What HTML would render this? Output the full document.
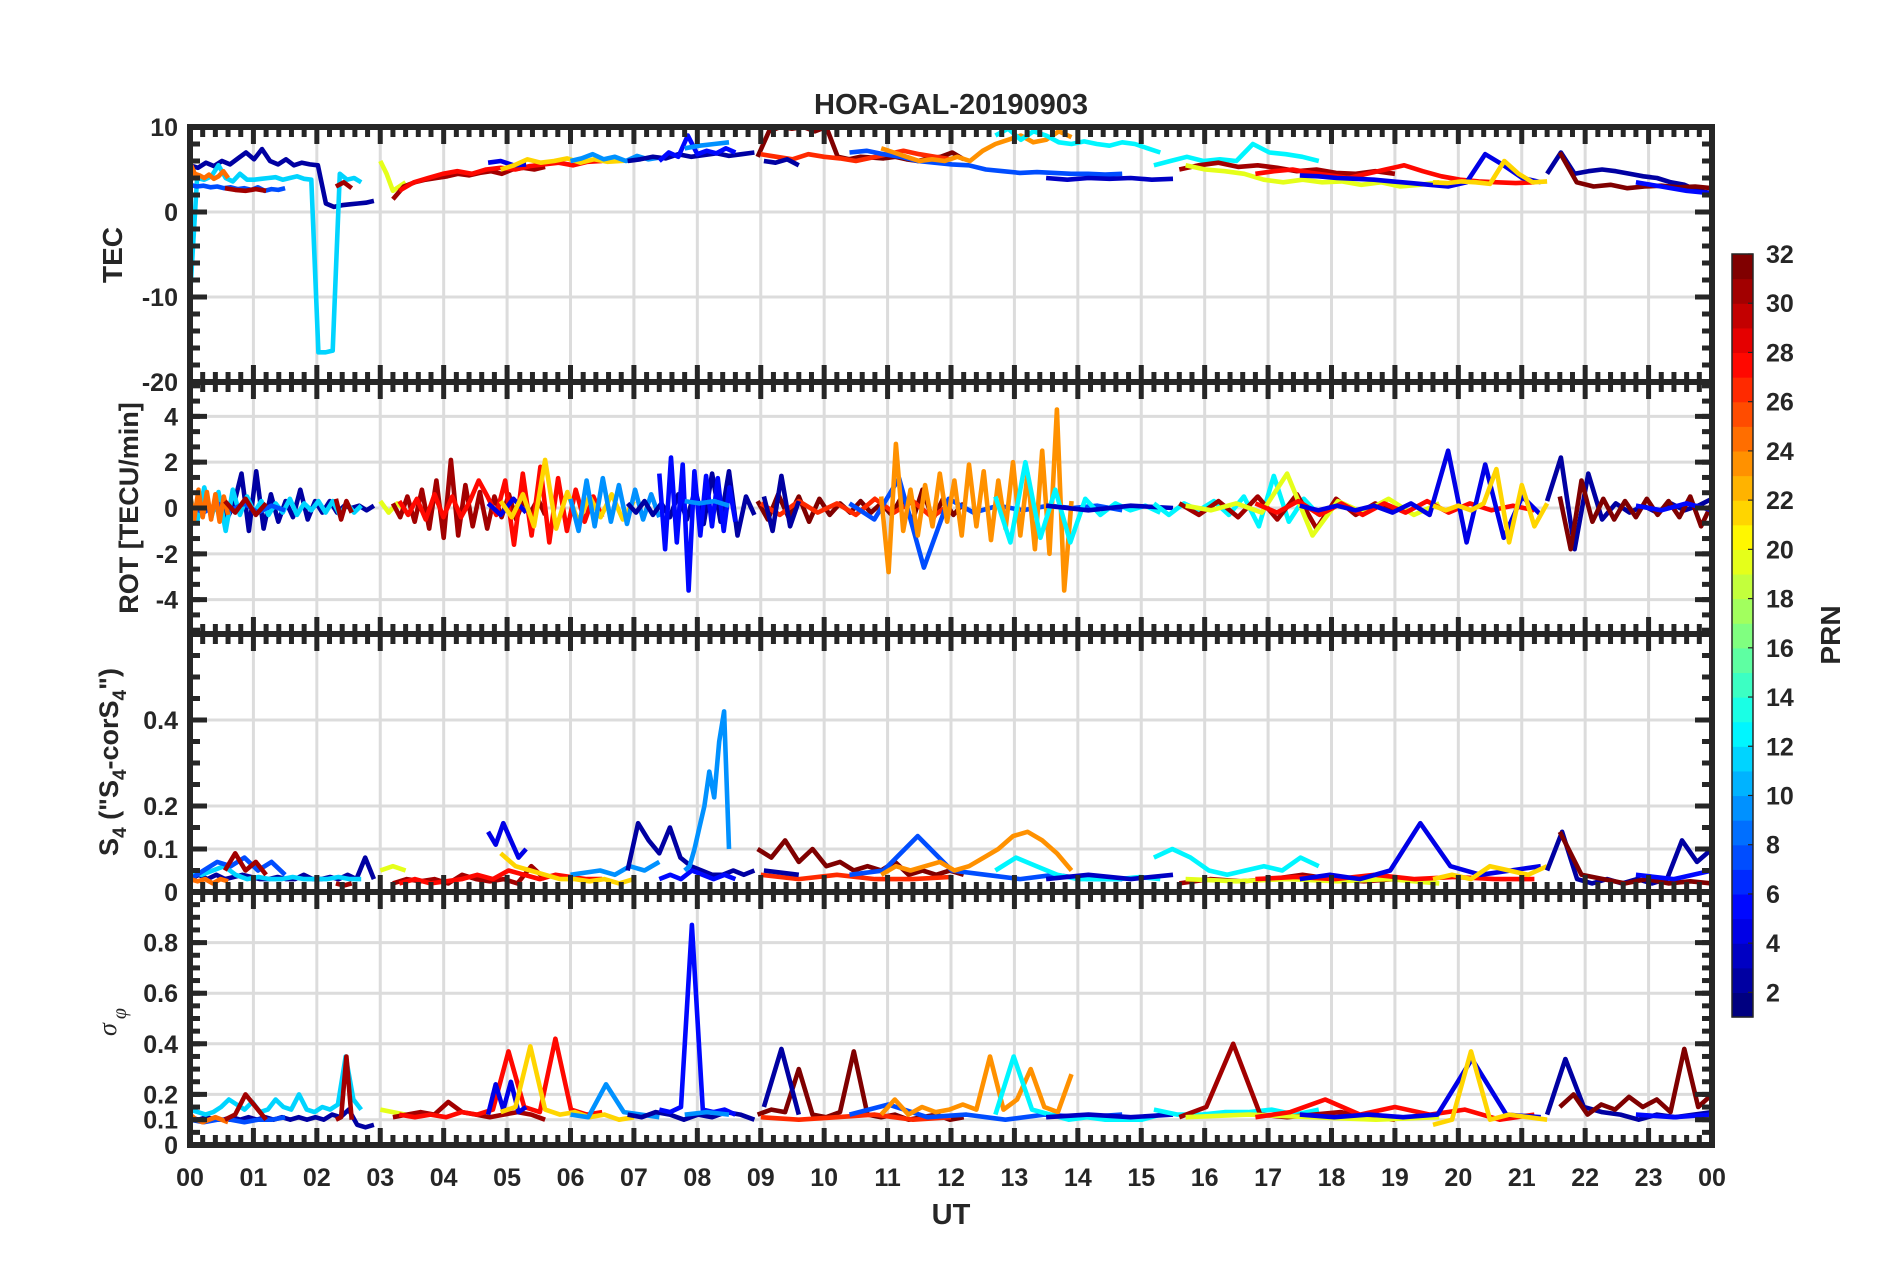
<!DOCTYPE html>
<html><head><meta charset="utf-8"><style>
html,body{margin:0;padding:0;background:#fff;}
svg text{font-family:"Liberation Sans",Arial,sans-serif;font-weight:bold;fill:#262626;}
</style></head><body>
<svg id="chart" width="1902" height="1272" viewBox="0 0 1902 1272" xmlns="http://www.w3.org/2000/svg">
<rect x="0" y="0" width="1902" height="1272" fill="#fff"/>
<text x="951" y="114" font-size="29" text-anchor="middle">HOR-GAL-20190903</text>
<text x="951" y="1224" font-size="29" text-anchor="middle">UT</text>
<text transform="translate(122,255) rotate(-90)" font-size="28" text-anchor="middle">TEC</text>
<text transform="translate(138,508) rotate(-90)" font-size="27" text-anchor="middle">ROT [TECU/min]</text>
<text transform="translate(118,762) rotate(-90)" font-size="27" text-anchor="middle">S<tspan font-size="19" dy="8">4</tspan><tspan dy="-8"> ("S</tspan><tspan font-size="19" dy="8">4</tspan><tspan dy="-8">-corS</tspan><tspan font-size="19" dy="8">4</tspan><tspan dy="-8">")</tspan></text>
<text transform="translate(116,1022) rotate(-90)" font-size="26" text-anchor="middle" font-weight="normal" font-style="italic" style="font-family:'Liberation Serif',serif;font-weight:normal">σ<tspan font-size="20" dy="10" dx="4">φ</tspan></text>
<g id="grid"></g>
<defs id="defs"></defs>
<g id="series"></g>
<g id="axes"></g>
<g id="cbar"></g>
<text transform="translate(1840,635) rotate(-90)" font-size="28" text-anchor="middle">PRN</text>
</svg>
<script>
const prns   = [2,11,7,24,30,30,19,30,27,4,21,9,2,5,9,31,26,2,7,23,12,3,12,30,19,27,4,21,2,31,5];
const tStart = [0,0,0,0,0.55,2.3,3.0,3.2,3.3,4.7,4.9,6.0,6.9,7.4,7.8,8.95,9.0,9.05,10.4,10.9,12.7,13.5,15.2,15.6,15.7,16.8,17.5,19.6,21.4,21.6,22.8];
const tEnd   = [2.9,2.7,1.5,0.6,1.2,2.55,3.4,5.6,6.5,5.3,7.0,7.4,8.9,8.6,8.5,12.2,12.0,9.6,14.7,13.9,15.3,15.5,17.8,19.0,19.7,21.2,21.3,21.4,24.0,24.0,24.0];
const tecVals = [
[5.5,5.2,5.8,5.4,6.0,5.6,6.3,7.0,6.2,7.4,6.0,5.6,6.2,5.5,5.8,5.6,5.5,1.0,0.6,0.8,0.9,1.0,1.1,1.3],
[-10,4,3.8,4.2,5.5,4.0,3.6,4.5,3.8,3.8,3.9,4.0,4.1,3.8,4.0,4.2,3.9,3.8,-16.5,-16.5,-16.3,4.5,3.8,4.0,3.5],
[3.2,3.0,3.1,2.9,3.0,2.8,2.9,2.7,2.8,2.6,2.9,2.5,2.7,2.6,2.8],
[5.8,4.5,4.3,4.0,4.4,3.9,4.2,4.8,4.0],
[2.8,2.6,2.5,2.7,2.5],
[3.0,3.5,2.8],
[6.0,4.5,2.5,3.0,3.5],
[1.5,3.0,3.5,3.8,4.0,4.2,4.5,4.3,4.6,4.8,4.5,5.0,5.2,5.0,5.3],
[2.5,3.5,4.0,4.5,4.8,4.5,5.0,5.2,5.0,5.4,5.6,5.8,5.5,5.9,6.0],
[5.8,6.0,5.5,5.6],
[5.0,5.5,6.2,5.8,6.0,6.3,5.8,6.2,5.9,6.0,6.1],
[6.0,6.3,6.8,6.2,6.5,6.0,6.6,6.2,6.4],
[6.0,6.2,6.5,6.3,6.8,6.5,6.7,6.9,6.6,6.8,7.0],
[6.0,7.0,6.5,9.0,6.8,7.2,6.9,7.5,7.0],
[7.5,7.8,8.0,8.2],
[6.5,9.5,10,9.8,10,9.5,10,6.5,6.2,6.5,6.4,6.3,6.5,6.2,6.0,6.3,6.5,7.0,6.2],
[6.8,6.5,6.2,6.8,6.5,6.3,6.0,6.4,6.8,7.2,6.8,6.5,6.2],
[6.0,5.8,6.2,5.5],
[7.0,7.2,6.8,6.5,6.0,5.8,5.6,5.5,5.0,4.8,4.6,4.7,4.6,4.5,4.5,4.4,4.5],
[7.5,7.0,6.5,6.0,6.2,6.0,6.5,6.0,7.2,8.0,8.5,9.0,8.2,8.5,9.5,8.8],
[9.0,9.8,8.5,9.5,9.0,8.2,8.0,8.3,8.0,7.8,8.2,8.0,7.5,7.0],
[4.0,3.8,4.0,3.9,4.0,3.8,3.9],
[5.5,6.0,6.5,6.0,6.2,6.0,8.0,7.0,6.8,6.5,6.0],
[5.0,5.5,5.8,5.3,5.5,5.2,4.8,5.0,4.6,4.5,4.8,4.5],
[5.5,5.0,4.8,4.5,3.8,3.5,3.8,3.5,3.6,3.2,3.5,3.0,3.2,3.5],
[4.5,4.8,5.0,4.6,4.3,4.0,4.5,5.0,5.5,4.8,4.2,3.8,3.6,3.5,3.4,3.5],
[4.3,4.2,4.0,3.9,3.8,3.6,3.4,3.2,3.0,3.5,6.8,5.5,4.0,3.5],
[3.5,3.4,3.6,3.5,3.3,6.0,4.5,3.5,3.6],
[4.5,7.0,4.5,4.8,5.0,4.8,4.5,4.2,4.0,3.5,3.2,2.5,2.2],
[7.0,3.5,3.0,3.2,2.8,3.0,3.1,2.9,3.0,2.8],
[3.5,3.0,2.5,2.2]
];
const rotVals = [
[0.2,-0.3,0.4,-0.2,0.3,-0.5,0.2,1.5,-1.0,1.6,-0.9,0.6,-0.6,0.3,-0.4,0.8,-0.5,0.3,-0.2,0.3,-0.2,0.1,0,0.1,-0.1,0.1],
[0.5,-0.6,0.9,-0.4,0.7,-1.0,0.8,-0.3,0.5,-0.2,0.3,-0.3,0.2,-0.2,0.4,-0.3,0.2,-0.1,0.3,-0.2,0.3,-0.3,0.2,-0.2,0.1],
[0.1,-0.2,0.2,-0.1,0.2,-0.2,0.1,-0.1],
[0.6,-0.5,0.8,-0.4,0.7,-0.5,0.6,-0.6,0.5,-0.3],
[0.3,-0.2,0.4,-0.3,0.2],
[0.4,-0.5,0.3,-0.2],
[0.3,-0.2,0.2,-0.1],
[0.2,-0.4,0.5,-0.6,0.8,-0.9,1.2,-1.3,2.1,-1.2,1.0,-0.8,0.7,-0.9,0.5,-0.4,0.6,-0.5,0.3,-0.2,0.4,-0.3],
[0.3,-0.3,0.4,-0.5,0.6,-0.4,0.5,-0.4,0.3,1.2,0.5,-0.3,1.2,-1.6,1.5,-1.2,1.8,-1.5,1.3,-1.0,0.8,-0.6,0.5,-0.4],
[0.2,-0.3,0.4,-0.2],
[0.3,-0.4,0.6,-0.8,2.1,-0.9,0.7,-0.6,0.5,-0.4,0.6,-0.5,0.3],
[0.4,-1.0,1.2,-0.8,1.3,-0.6,1.0,-0.7,0.8,-0.5,0.6,-0.4],
[0.2,-0.2,0.3,-0.3,0.2,-0.4,0.6,-0.5,0.8,-0.7,1.5,-0.6,1.6,-1.2,0.5,-0.3],
[1.5,-1.8,2.2,-1.5,1.9,-3.6,1.6,-1.2,1.4,-0.8,1.3,-1.0,0.9,-0.6],
[0.3,0.2,0.3,0.1],
[0.3,-0.5,0.6,-0.4,0.5,-0.6,0.4,-0.3,0.2,-0.2,0.3,-0.2,0.2,-0.3,0.5,-0.6,0.8,-0.5,0.4,-0.3,0.2],
[0.2,-0.3,0.3,-0.2,0.2,-0.3,0.4,-0.2,0.3,-0.4,0.2],
[0.5,-1.0,1.4,-0.8,0.3],
[0.2,-0.5,1.3,-2.6,0.4,-0.2,0.1,-0.1,0.1,0,0.1,-0.1],
[0.5,-2.8,2.8,-1.0,0.8,-1.2,1.0,-0.8,1.5,-0.6,1.2,-1.2,1.9,-0.8,1.6,-1.4,1.2,-0.9,2.0,-1.2,1.5,-1.8,2.5,-2.0,4.3,-3.6,0.3],
[0.5,-1.5,2.0,-1.3,0.8,-1.5,0.4,-0.3,0.2,-0.1,0.1,-0.2],
[0.1,-0.1,0.1,0],
[0.2,-0.3,0.2,-0.1,0.3,-0.3,0.5,-0.8,1.4,-0.6,0.4,-0.3],
[0.2,-0.3,0.3,-0.4,0.5,-0.5,0.6,-0.9,0.4,-0.3,0.2,-0.2],
[0.1,-0.1,0.2,-0.2,1.5,-1.2,0.3,-0.2,0.4,-0.3,0.2],
[0.2,-0.2,0.3,-0.3,0.2,-0.3,0.2,-0.2,0.3,-0.2,0.2,-0.1,0.1,-0.1],
[0.1,-0.1,0.1,-0.1,0.1,-0.2,0.2,-0.3,2.5,-1.5,1.9,-1.3,0.5,-0.3],
[0.1,-0.1,0.1,-0.1,0.2,1.7,-1.5,1.0,-0.8,0.2],
[0.3,2.2,-1.8,1.5,-0.5,0.2,-0.2,0.1,-0.2,0.2,-0.1,0.1,0.4],
[0.5,-1.8,1.2,-0.6,0.4,-0.5,0.3,-0.4,0.4,-0.3,0.3,-0.4,0.5,-0.8,0.2],
[0.1,-0.1,0.2,-0.1]
];
const s4Vals = [
[0.03,0.04,0.03,0.04,0.03,0.035,0.04,0.035,0.03,0.03,0.035,0.03,0.03,0.04,0.03,0.03,0.035,0.03,0.04,0.03,0.08,0.03],
[0.05,0.04,0.05,0.06,0.04,0.03,0.035,0.03,0.03,0.035,0.03,0.03,0.03,0.035,0.03,0.03],
[0.03,0.05,0.07,0.06,0.08,0.05,0.07,0.04],
[0.03,0.025,0.03,0.02,0.03,0.025],
[0.05,0.09,0.05,0.07,0.04],
[0.02,0.015,0.02],
[0.05,0.06,0.05],
[0.02,0.03,0.025,0.03,0.02,0.04,0.03,0.025,0.03,0.02,0.06,0.03],
[0.02,0.03,0.02,0.025,0.03,0.04,0.03,0.05,0.04,0.03,0.04,0.035,0.03,0.03],
[0.14,0.11,0.16,0.12,0.08,0.1],
[0.09,0.06,0.05,0.04,0.03,0.03,0.025,0.03,0.02,0.03],
[0.04,0.045,0.05,0.04,0.06,0.05,0.07],
[0.05,0.16,0.12,0.09,0.15,0.08,0.06,0.05,0.04,0.04,0.05,0.04,0.05],
[0.03,0.04,0.03,0.05,0.04,0.03,0.04,0.03],
[0.05,0.06,0.1,0.15,0.2,0.28,0.22,0.35,0.42,0.1],
[0.1,0.08,0.12,0.07,0.1,0.06,0.07,0.05,0.06,0.05,0.07,0.04,0.05,0.04,0.05,0.04],
[0.04,0.03,0.04,0.03,0.03,0.035],
[0.05,0.04],
[0.04,0.05,0.13,0.05,0.04,0.03,0.04,0.03,0.03],
[0.04,0.06,0.05,0.06,0.07,0.05,0.06,0.08,0.1,0.13,0.14,0.12,0.09,0.05],
[0.05,0.08,0.06,0.04,0.03,0.03,0.03,0.035,0.03],
[0.03,0.04,0.03,0.04],
[0.08,0.1,0.08,0.05,0.04,0.05,0.06,0.05,0.08,0.06],
[0.02,0.03,0.025,0.03,0.04,0.03,0.025,0.03],
[0.03,0.025,0.03,0.025,0.03,0.02],
[0.03,0.035,0.03,0.04,0.03,0.035,0.03,0.03],
[0.03,0.04,0.03,0.05,0.16,0.06,0.04,0.05,0.06],
[0.03,0.04,0.03,0.06,0.05,0.04,0.06],
[0.05,0.14,0.03,0.02,0.03,0.02,0.03,0.02,0.03,0.12,0.07,0.1],
[0.14,0.04,0.03,0.02,0.03,0.02,0.025,0.02],
[0.04,0.03,0.05]
];
const sigVals = [
[0.11,0.10,0.11,0.10,0.10,0.11,0.10,0.11,0.10,0.11,0.10,0.11,0.10,0.11,0.10,0.11,0.10,0.12,0.11,0.14,0.08,0.07,0.08],
[0.14,0.13,0.12,0.13,0.15,0.18,0.16,0.14,0.17,0.13,0.14,0.18,0.15,0.14,0.20,0.14,0.13,0.15,0.14,0.16,0.35,0.18,0.14],
[0.1,0.09,0.1,0.1,0.09,0.1,0.1,0.11],
[0.12,0.1,0.09,0.1,0.11,0.1,0.09],
[0.1,0.12,0.2,0.15,0.1],
[0.1,0.11,0.35,0.1],
[0.14,0.13,0.12],
[0.11,0.12,0.13,0.12,0.17,0.13,0.12,0.11,0.12,0.13,0.12,0.1],
[0.12,0.11,0.12,0.11,0.13,0.12,0.14,0.37,0.15,0.13,0.42,0.14,0.12,0.13],
[0.12,0.24,0.14,0.25,0.13,0.15],
[0.13,0.15,0.39,0.14,0.12,0.13,0.11,0.12,0.1,0.11],
[0.12,0.11,0.24,0.13,0.12,0.11],
[0.12,0.11,0.13,0.12,0.1,0.12,0.11,0.13,0.12,0.1],
[0.14,0.13,0.15,0.87,0.14,0.13,0.14,0.12],
[0.12,0.13,0.12],
[0.12,0.14,0.13,0.3,0.12,0.11,0.13,0.37,0.12,0.11,0.12,0.1,0.11,0.12,0.1,0.11],
[0.11,0.1,0.11,0.12,0.1,0.11],
[0.15,0.38,0.12],
[0.12,0.16,0.11,0.12,0.1,0.12,0.11,0.12],
[0.12,0.18,0.12,0.15,0.13,0.14,0.16,0.14,0.35,0.14,0.18,0.3,0.15,0.13,0.28],
[0.12,0.35,0.14,0.12,0.1,0.11,0.1,0.1,0.1,0.12],
[0.11,0.12,0.11,0.12],
[0.14,0.12,0.12,0.13,0.13,0.14,0.12,0.14],
[0.11,0.15,0.4,0.12,0.11,0.12,0.13,0.11,0.1],
[0.11,0.12,0.11,0.1,0.11],
[0.11,0.13,0.18,0.12,0.15,0.12,0.14,0.1,0.12],
[0.12,0.11,0.12,0.11,0.12,0.34,0.12,0.11],
[0.08,0.1,0.37,0.1,0.12,0.11,0.1],
[0.12,0.34,0.15,0.13,0.12,0.1,0.12,0.11,0.12,0.13],
[0.15,0.2,0.12,0.16,0.14,0.19,0.15,0.18,0.13,0.38,0.15,0.2],
[0.12,0.11,0.12]
];
const hourLabels = ["00","01","02","03","04","05","06","07","08","09","10","11","12","13","14","15","16","17","18","19","20","21","22","23","00"];
const tecTicks = [-20,-10,0,10];
const rotTicks = [-4,-2,0,2,4];
const s4Ticks = [0,0.1,0.2,0.4];
const sigTicks = [0,0.1,0.2,0.4,0.6,0.8];
const cbarTicks = [2,4,6,8,10,12,14,16,18,20,22,24,26,28,30,32];

const NS = "http://www.w3.org/2000/svg";
const X0 = 190, X1 = 1712;
function xs(t){ return X0 + (X1 - X0) * t / 24; }
const panels = [
 {key:"tec", top:127, bot:382, min:-20, max:10, ticks:tecTicks, minor:2, vals:tecVals},
 {key:"rot", top:382, bot:634, min:-5.5, max:5.5, ticks:rotTicks, minor:2/3, vals:rotVals},
 {key:"s4", top:634, bot:892, min:0, max:0.6, ticks:s4Ticks, minor:0.05, vals:s4Vals},
 {key:"sigma", top:892, bot:1145, min:0, max:1, ticks:sigTicks, minor:0.05, vals:sigVals}
];
function ys(p, v){ return p.bot - (p.bot - p.top) * (v - p.min) / (p.max - p.min); }
function jet(i, n){
  const f = i / (n - 1);
  const c = v => Math.round(255 * Math.max(0, Math.min(1, v)));
  return `rgb(${c(1.5-Math.abs(4*f-3))},${c(1.5-Math.abs(4*f-2))},${c(1.5-Math.abs(4*f-1))})`;
}
function prnColor(p){ const i = Math.max(0, Math.min(30, Math.floor(p - 1))); return jet(i, 31); }
function mk(tag, attrs, parent){ const e = document.createElementNS(NS, tag); for (const k in attrs) e.setAttribute(k, attrs[k]); parent.appendChild(e); return e; }

const grid = document.getElementById("grid");
const defs = document.getElementById("defs");
const seriesG = document.getElementById("series");
const axes = document.getElementById("axes");
const cbar = document.getElementById("cbar");

panels.forEach(p => {
  const cp = mk("clipPath", {id:"clip-"+p.key}, defs);
  mk("rect", {x:X0, y:p.top, width:X1-X0, height:p.bot-p.top}, cp);
  for (let h = 1; h < 24; h++){
    const l = mk("line", {x1:xs(h), x2:xs(h), y1:p.top, y2:p.bot, stroke:"#dcdcdc", "stroke-width":3}, grid);
    
    
  }
  p.ticks.forEach(v => {
    if (v === p.min || v === p.max) return;
    const l = mk("line", {x1:X0, x2:X1, y1:ys(p,v), y2:ys(p,v), stroke:"#dcdcdc", "stroke-width":3}, grid);
    
    
  });
  const g = mk("g", {"clip-path":"url(#clip-"+p.key+")"}, seriesG);
  
  
  p.vals.forEach((arr, si) => {
    if (!arr.length) return;
    const n = arr.length, t0 = tStart[si], t1 = tEnd[si];
    const pts = arr.map((v, i) => {
      const t = n > 1 ? t0 + (t1 - t0) * i / (n - 1) : t0;
      return xs(t).toFixed(1) + "," + ys(p, v).toFixed(1);
    }).join(" ");
    const pl = mk("polyline", {points:pts, fill:"none", stroke:prnColor(prns[si]), "stroke-width":4.6, "stroke-linejoin":"round"}, g);
    
    
  });
  const box = mk("rect", {x:X0, y:p.top, width:X1-X0, height:p.bot-p.top, fill:"none", stroke:"#262626", "stroke-width":6}, axes);
  
  
  for (let k = 0; k <= 24 * 5; k++){
    const x = xs(k / 5), major = (k % 5 === 0), len = major ? 17 : 10;
    mk("line", {x1:x, x2:x, y1:p.top, y2:p.top + len, stroke:"#262626", "stroke-width":5}, axes);
    mk("line", {x1:x, x2:x, y1:p.bot, y2:p.bot - len, stroke:"#262626", "stroke-width":5}, axes);
  }
  const startMinor = Math.ceil((p.min) / p.minor - 1e-9);
  for (let k = startMinor; k * p.minor <= p.max + 1e-9; k++){
    const y = ys(p, k * p.minor);
    if (y < p.top - 0.5 || y > p.bot + 0.5) continue;
    mk("line", {x1:X0, x2:X0 + 10, y1:y, y2:y, stroke:"#262626", "stroke-width":5}, axes);
    mk("line", {x1:X1, x2:X1 - 10, y1:y, y2:y, stroke:"#262626", "stroke-width":5}, axes);
  }
  p.ticks.forEach(v => {
    const y = ys(p, v);
    mk("line", {x1:X0, x2:X0 + 17, y1:y, y2:y, stroke:"#262626", "stroke-width":5}, axes);
    mk("line", {x1:X1, x2:X1 - 17, y1:y, y2:y, stroke:"#262626", "stroke-width":5}, axes);
    const t = mk("text", {x:178, y:y + 9, "font-size":25, "text-anchor":"end"}, axes);
    
    
    t.textContent = String(v);
  });
});
hourLabels.forEach((lab, h) => {
  const t = mk("text", {x:xs(h), y:1186, "font-size":25, "text-anchor":"middle"}, axes);
  
  
  t.textContent = lab;
});
const CB_L = 1732, CB_R = 1753, CB_T = 254, CB_B = 1017, CMIN = 1, CMAX = 32;
function cy(v){ return CB_B - (CB_B - CB_T) * (v - CMIN) / (CMAX - CMIN); }
for (let i = 0; i < 31; i++){
  const r = mk("rect", {x:CB_L, y:cy(CMIN + i + 1), width:CB_R - CB_L, height:cy(CMIN + i) - cy(CMIN + i + 1) + 0.6, fill:jet(i, 31)}, cbar);
  
  
}
mk("rect", {x:CB_L, y:CB_T, width:CB_R - CB_L, height:CB_B - CB_T, fill:"none", stroke:"#262626", "stroke-width":1.5}, cbar);
cbarTicks.forEach(v => {
  const y = cy(v);
  mk("line", {x1:CB_R, x2:CB_R - 5, y1:y, y2:y, stroke:"#262626", "stroke-width":1.2}, cbar);
  const t = mk("text", {x:1766, y:y + 9, "font-size":25}, cbar);
  
  
  t.textContent = String(v);
});
</script>
</body></html>
